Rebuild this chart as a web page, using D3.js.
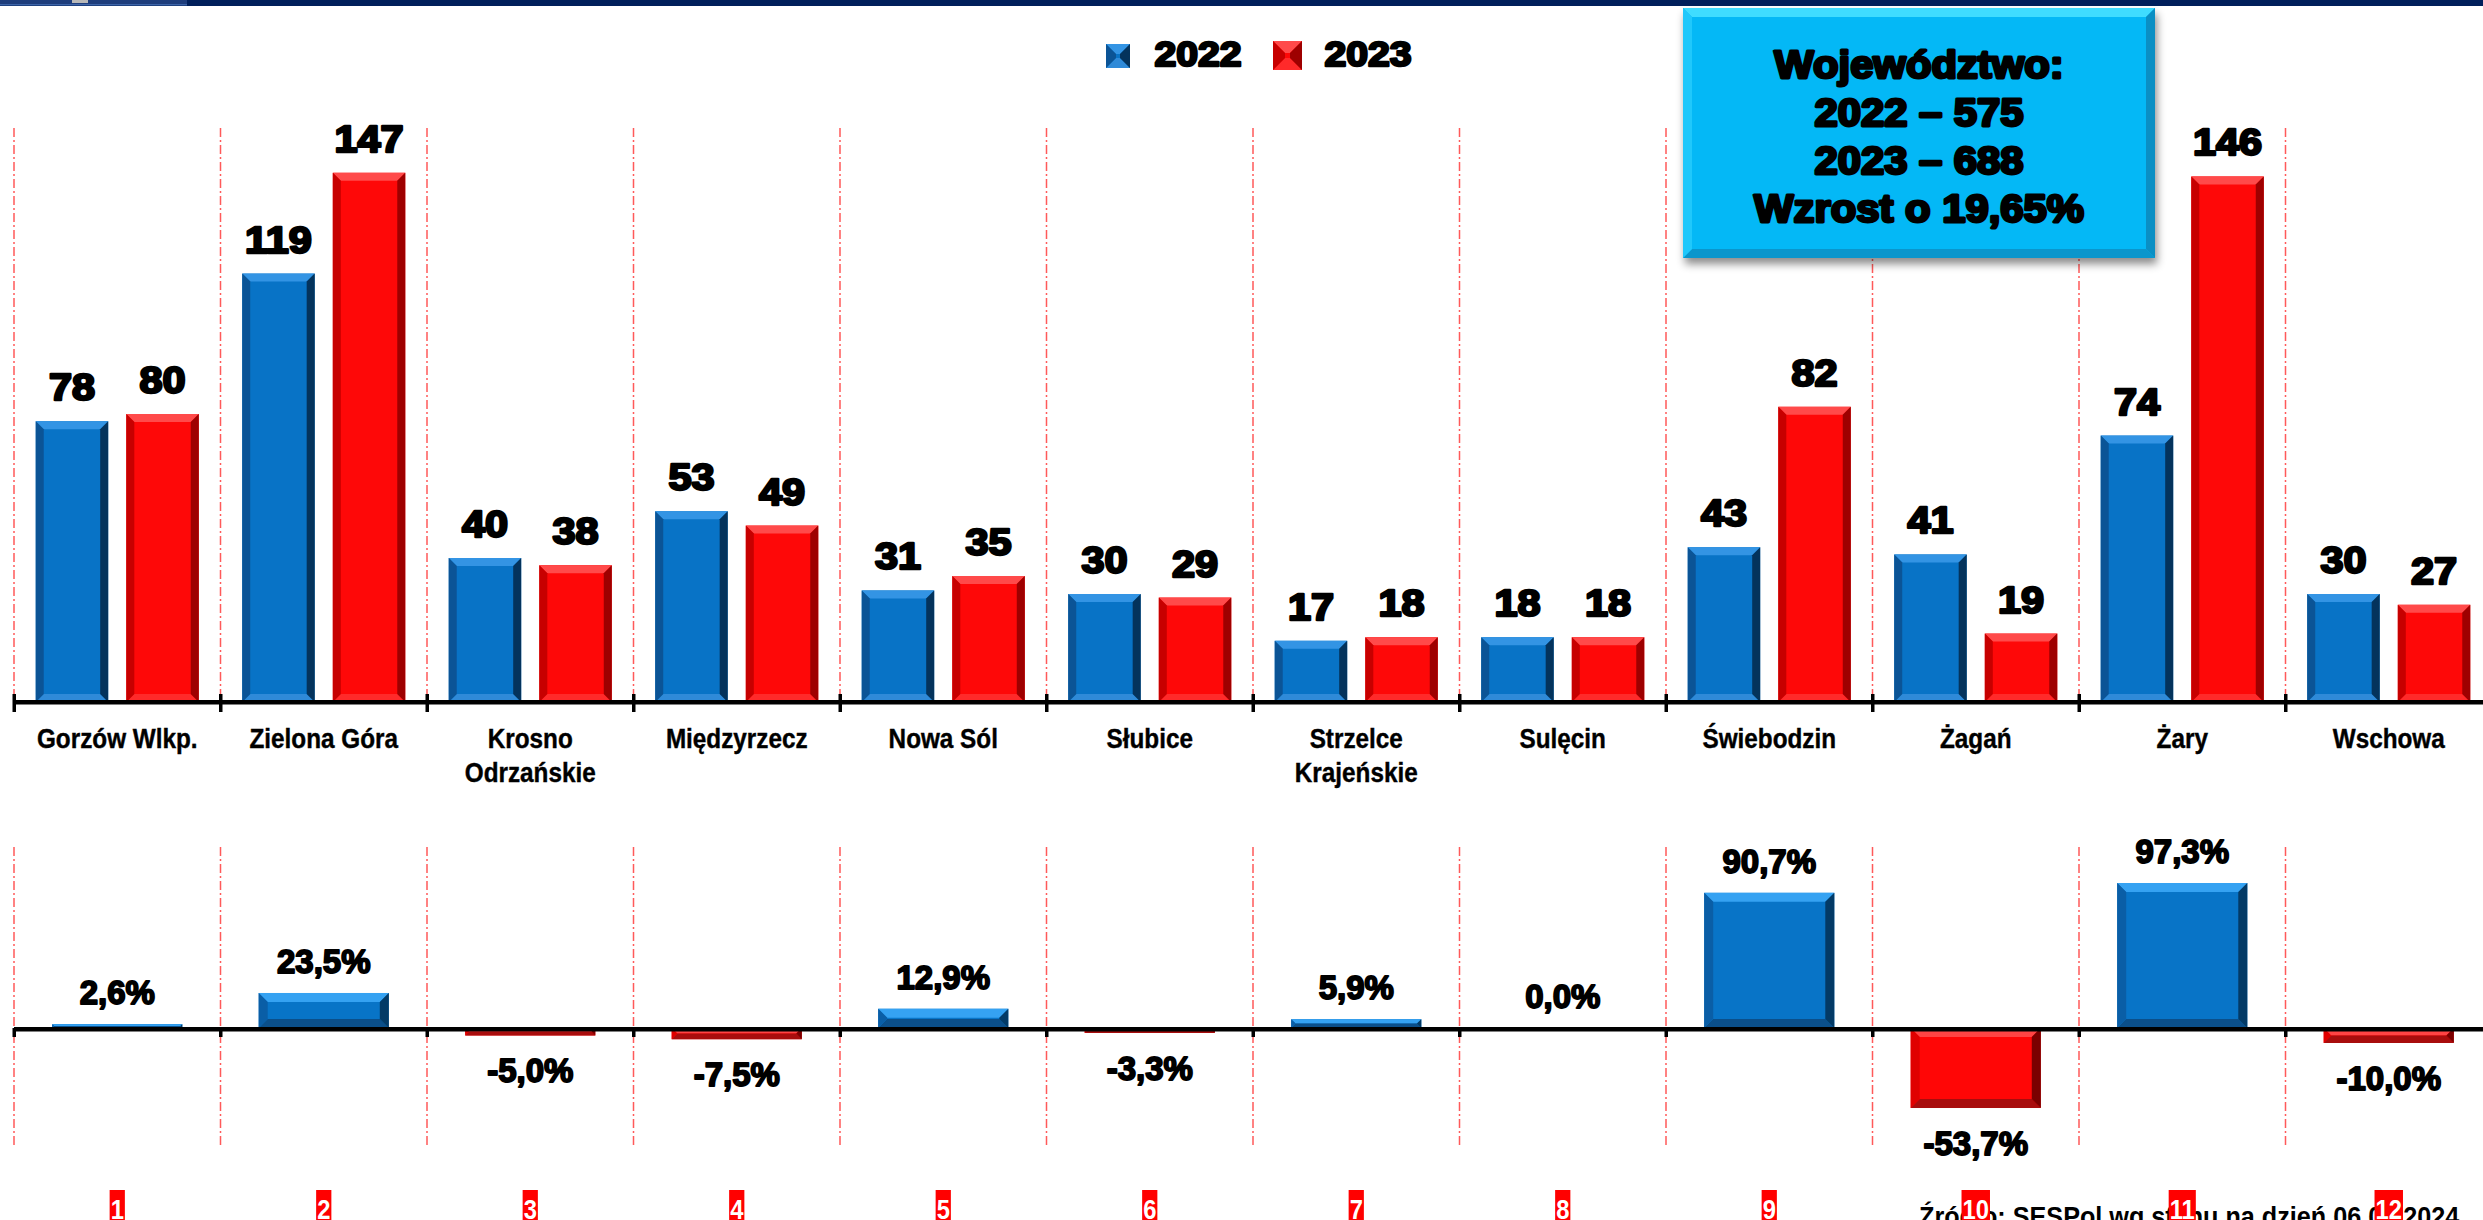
<!DOCTYPE html>
<html>
<head>
<meta charset="utf-8">
<script src="https://d3js.org/d3.v7.min.js"></script>
<style>
  body { margin: 0; background: #fff; }
  svg { display: block; font-family: "Liberation Sans", Arial, sans-serif; }
</style>
</head>
<body>
<div id="chart"></div>
<script>
// data
var categories = ["Gorzów Wlkp.", "Zielona Góra", "Krosno\nOdrzańskie", "Międzyrzecz", "Nowa Sól", "Słubice",
                  "Strzelce\nKrajeńskie", "Sulęcin", "Świebodzin", "Żagań", "Żary", "Wschowa"];
var years = ["2022", "2023"];
var values2022 = [78, 119, 40, 53, 31, 30, 17, 18, 43, 41, 74, 30];
var values2023 = [80, 147, 38, 49, 35, 29, 18, 18, 82, 19, 146, 27];
var change = [2.6, 23.5, -5.0, -7.5, 12.9, -3.3, 5.9, 0.0, 90.7, -53.7, 97.3, -10.0];
var indexLabels = ["1", "2", "3", "4", "5", "6", "7", "8", "9", "10", "11", "12"];
var boxLines = ["Województwo:", "2022 – 575", "2023 – 688", "Wzrost o 19,65%"];
var sourceText = "Źródło: SESPol wg stanu na dzień 06.01.2024";

var width = 2483, height = 1220;

var svg = d3.select("#chart").append("svg")
    .attr("width", width)
    .attr("height", height);

var defs = svg.append("defs");
var shadow = defs.append("filter").attr("id", "shadow")
    .attr("x", "-10%").attr("y", "-10%").attr("width", "130%").attr("height", "140%");
shadow.append("feDropShadow").attr("dx", 2).attr("dy", 6).attr("stdDeviation", 4)
    .attr("flood-color", "#000").attr("flood-opacity", 0.45);

// bevel palettes
var blue = { face: "#0873c6", top: "#3394e4", left: "#0b5496", right: "#04335c", bottom: "#2f8ad8" };
var red = { face: "#fe0808", top: "#ff4a4a", left: "#c70000", right: "#9e0000", bottom: "#ff2a2a" };
var blueB = { face: "#0874c7", top: "#35a2f2", left: "#0a5ea6", right: "#033a66", bottom: "#0b4f8a" };
var redB = { face: "#ff0606", top: "#ff4444", left: "#e00000", right: "#7a0000", bottom: "#a80d0d" };
var cyan = { face: "#04b8f6", top: "#3fdcff", left: "#20c8fb", right: "#0a8fc4", bottom: "#0a96cc" };

function bevelRect(g, x, y, w, h, b, c) {
  b = Math.max(0, Math.min(b, h / 2, w / 2));
  var p = function(pts) { return pts.map(function(d) { return d.join(","); }).join(" "); };
  g.append("rect").attr("x", x).attr("y", y).attr("width", w).attr("height", h).attr("fill", c.face);
  if (b < 0.5) return;
  g.append("polygon").attr("fill", c.top)
    .attr("points", p([[x, y], [x + w, y], [x + w - b, y + b], [x + b, y + b]]));
  g.append("polygon").attr("fill", c.bottom)
    .attr("points", p([[x, y + h], [x + w, y + h], [x + w - b, y + h - b], [x + b, y + h - b]]));
  g.append("polygon").attr("fill", c.left)
    .attr("points", p([[x, y], [x + b, y + b], [x + b, y + h - b], [x, y + h]]));
  g.append("polygon").attr("fill", c.right)
    .attr("points", p([[x + w, y], [x + w - b, y + b], [x + w - b, y + h - b], [x + w, y + h]]));
}

// heavy "Arial Black"-like text
function heavy(g, x, y, txt, size, sx, sw) {
  return g.append("text")
    .attr("transform", "translate(" + x + "," + y + ") scale(" + (sx || 1.12) + ",1)")
    .attr("text-anchor", "middle")
    .attr("font-size", size)
    .attr("font-weight", "bold")
    .attr("fill", "#000")
    .attr("stroke", "#000")
    .attr("stroke-width", sw || 2.4)
    .attr("stroke-linejoin", "round")
    .text(txt);
}

// header strip
svg.append("rect").attr("x", 0).attr("y", 0).attr("width", width).attr("height", 6).attr("fill", "#001f5b");
svg.append("rect").attr("x", 0).attr("y", 0).attr("width", 187).attr("height", 5).attr("fill", "#1e3d7c");
svg.append("rect").attr("x", 0).attr("y", 4).attr("width", 187).attr("height", 1.5).attr("fill", "#3d64a8");
svg.append("rect").attr("x", 72).attr("y", 0).attr("width", 16).attr("height", 3).attr("fill", "#b8b8b8");

// scales
var x = d3.scaleBand().domain(categories).range([14, 14 + 12 * 206.5]);
var xs = d3.scaleBand().domain(years).range([0, x.bandwidth()]).paddingInner(0.2).paddingOuter(0.24);
var yTop = d3.scaleLinear().domain([0, 150]).range([702, 702 - 150 * 3.6]);
var yBot = d3.scaleLinear().domain([-60, 100]).range([1028 + 60 * 1.49, 1028 - 100 * 1.49]);

var bounds = categories.map(function(c) { return x(c); });

// dash-dot separators
var sep = svg.append("g").attr("stroke", "#ff5a5a").attr("stroke-width", 1.5).attr("stroke-dasharray", "9,3,2,3");
bounds.forEach(function(bx) {
  sep.append("line").attr("x1", bx).attr("x2", bx).attr("y1", 128).attr("y2", yTop(0));
  sep.append("line").attr("x1", bx).attr("x2", bx).attr("y1", 847).attr("y2", 1147);
});

// ---------- top chart ----------
var topG = svg.append("g");
var series = [values2022, values2023];
categories.forEach(function(c, i) {
  years.forEach(function(yr, j) {
    var v = series[j][i];
    var bx = x(c) + xs(yr), bw = xs.bandwidth();
    bevelRect(topG, bx, yTop(v), bw, yTop(0) - yTop(v), 8, j === 0 ? blue : red);
    heavy(topG, bx + bw / 2, yTop(v) - 21, v, 37);
  });
});

// axis
topG.append("rect").attr("x", bounds[0]).attr("y", yTop(0) - 2).attr("width", width).attr("height", 4.5).attr("fill", "#000");
bounds.forEach(function(bx) {
  topG.append("rect").attr("x", bx - 1.5).attr("y", yTop(0) - 8).attr("width", 3.5).attr("height", 18).attr("fill", "#000");
});

// category labels
categories.forEach(function(c) {
  var t = topG.append("text")
    .attr("transform", "translate(" + (x(c) + x.bandwidth() / 2) + ",748) scale(0.9,1)")
    .attr("text-anchor", "middle")
    .attr("font-size", 27)
    .attr("font-weight", "bold")
    .attr("fill", "#000")
    .attr("stroke", "#000")
    .attr("stroke-width", 0.4);
  c.split("\n").forEach(function(line, k) {
    t.append("tspan").attr("x", 0).attr("y", k * 34).text(line);
  });
});

// legend
bevelRect(svg.append("g"), 1106, 44, 24, 24, 10, blue);
heavy(svg, 1154 + 44, 66, "2022", 35);
bevelRect(svg.append("g"), 1273, 41, 29, 29, 12, red);
heavy(svg, 1324 + 44, 66, "2023", 35);

// summary box
var box = svg.append("g");
box.append("rect").attr("x", 1683).attr("y", 8).attr("width", 472).attr("height", 250)
  .attr("fill", "#04b8f6").attr("filter", "url(#shadow)");
bevelRect(box, 1683, 8, 472, 250, 9, cyan);
boxLines.forEach(function(line, k) {
  heavy(box, 1919, 78 + k * 48, line, 38, 1.1, 2.8);
});

// ---------- bottom chart ----------
var botG = svg.append("g");
categories.forEach(function(c, i) {
  var v = change[i];
  var bw = x.bandwidth() * 0.63;
  var bx = x(c) + (x.bandwidth() - bw) / 2;
  var y0 = yBot(Math.max(0, v)), h = Math.abs(yBot(v) - yBot(0));
  if (h > 0) bevelRect(botG, bx, y0, bw, h, 9, v >= 0 ? blueB : redB);
  var lbl = v.toFixed(1).replace(".", ",") + "%";
  var ly = v >= 0 ? yBot(v) - 20 : yBot(v) + 47;
  heavy(botG, bx + bw / 2, ly, lbl, 33, 1.0, 1.8);
});

botG.append("rect").attr("x", bounds[0]).attr("y", yBot(0) - 1).attr("width", width).attr("height", 4.5).attr("fill", "#000");
bounds.forEach(function(bx) {
  botG.append("rect").attr("x", bx - 1.5).attr("y", yBot(0)).attr("width", 3.5).attr("height", 9).attr("fill", "#000");
});

// source note (partly off the slide)
svg.append("text")
  .attr("transform", "translate(1919,1226) scale(0.9,1)")
  .attr("font-size", 28)
  .attr("font-weight", "bold")
  .attr("fill", "#000")
  .text(sourceText);

// red index tags
categories.forEach(function(c, i) {
  var cx = x(c) + x.bandwidth() / 2;
  var g = svg.append("g").attr("transform", "translate(" + cx + ",0)");
  var r = g.append("rect").attr("y", 1190).attr("height", 32).attr("fill", "#ff0000");
  var t = g.append("text")
    .attr("transform", "translate(0,1219) scale(0.85,1)")
    .attr("text-anchor", "middle")
    .attr("font-size", 28)
    .attr("font-weight", "bold")
    .attr("fill", "#fff")
    .text(indexLabels[i]);
  var w = t.node().getComputedTextLength() * 0.85 + 2;
  r.attr("x", -w / 2).attr("width", w);
});
</script>
</body>
</html>
